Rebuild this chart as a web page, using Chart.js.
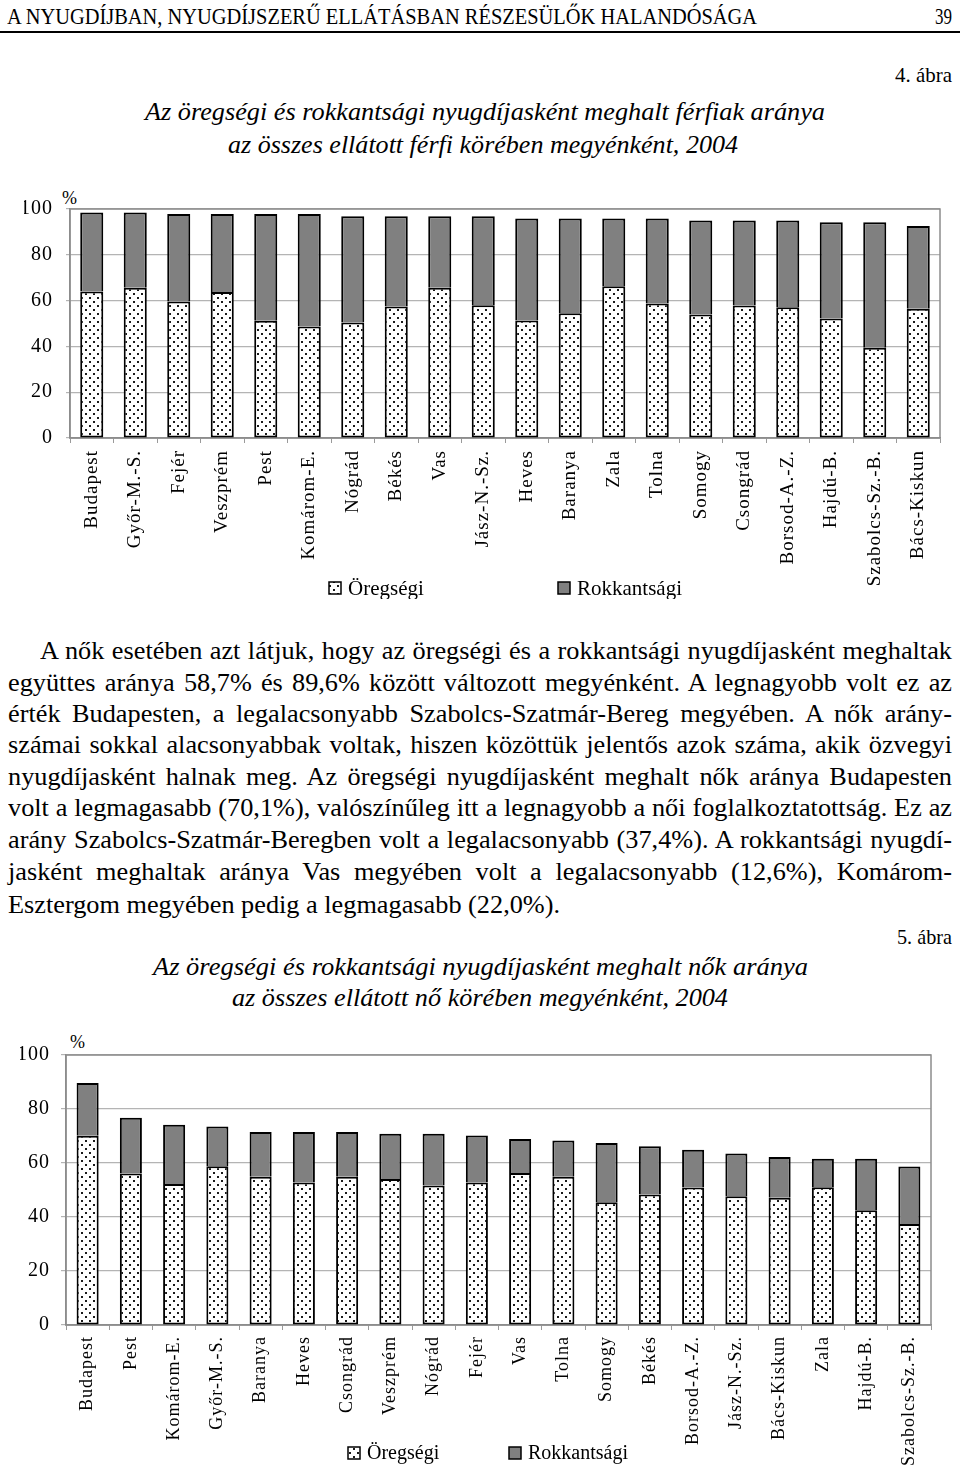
<!DOCTYPE html>
<html lang="hu">
<head>
<meta charset="utf-8">
<title>Öregségi és rokkantsági nyugdíjasként meghaltak aránya megyénként, 2004</title>
<script src="https://cdn.jsdelivr.net/npm/chart.js@4.4.1/dist/chart.umd.min.js"></script>
<style>
  html, body { margin: 0; padding: 0; background: #fff; }
  body {
    position: relative;
    width: 960px;
    height: 1465px;
    overflow: hidden;
    color: #000;
    font-family: "Liberation Serif", "DejaVu Serif", serif;
  }
  .t { position: absolute; white-space: nowrap; transform-origin: 0 50%; }
  .it { font-style: italic; }
  .pl { position: absolute; white-space: nowrap; font-size: 26px; line-height: 30px; transform-origin: 0 50%; }
  .pl.j { text-align: justify; text-align-last: justify; }
  .rule { position: absolute; left: 0; top: 31px; width: 960px; height: 2px; background: #000; }
  canvas { position: absolute; left: 0; }
</style>
</head>
<body>

<div class="t fit" data-w="750" style="left:7px; top:2px; font-size:24px; line-height:28px;">A NYUGDÍJBAN, NYUGDÍJSZERŰ ELLÁTÁSBAN RÉSZESÜLŐK HALANDÓSÁGA</div>
<div class="t fit" data-w="17" style="left:935px; top:2px; font-size:24px; line-height:28px;">39</div>
<div class="rule"></div>

<div class="t fit" data-w="57" style="left:895px; top:63px; font-size:21px; line-height:24px;">4. ábra</div>
<div class="t fit it" data-w="680" style="left:145px; top:98px; font-size:25px; line-height:28px;">Az öregségi és rokkantsági nyugdíjasként meghalt férfiak aránya</div>
<div class="t fit it" data-w="510" style="left:228px; top:131px; font-size:25px; line-height:28px;">az összes ellátott férfi körében megyénként, 2004</div>
<div class="t" style="left:62px; top:187px; font-size:18px; line-height:22px;">%</div>

<canvas id="menChart" width="960" height="415" style="top:184px"></canvas>

<div class="pl j" data-w="912" style="left:40px; top:636px;">A nők esetében azt látjuk, hogy az öregségi és a rokkantsági nyugdíjasként meghaltak</div>
<div class="pl j" data-w="944" style="left:8px; top:668px;">együttes aránya 58,7% és 89,6% között változott megyénként. A legnagyobb volt ez az</div>
<div class="pl j" data-w="944" style="left:8px; top:699px;">érték Budapesten, a legalacsonyabb Szabolcs-Szatmár-Bereg megyében. A nők arány-</div>
<div class="pl j" data-w="944" style="left:8px; top:730px;">számai sokkal alacsonyabbak voltak, hiszen közöttük jelentős azok száma, akik özvegyi</div>
<div class="pl j" data-w="944" style="left:8px; top:762px;">nyugdíjasként halnak meg. Az öregségi nyugdíjasként meghalt nők aránya Budapesten</div>
<div class="pl j" data-w="944" style="left:8px; top:793px;">volt a legmagasabb (70,1%), valószínűleg itt a legnagyobb a női foglalkoztatottság. Ez az</div>
<div class="pl j" data-w="944" style="left:8px; top:825px;">arány Szabolcs-Szatmár-Beregben volt a legalacsonyabb (37,4%). A rokkantsági nyugdí-</div>
<div class="pl j" data-w="944" style="left:8px; top:857px;">jasként meghaltak aránya Vas megyében volt a legalacsonyabb (12,6%), Komárom-</div>
<div class="pl" id="lastLine" data-w="552" style="left:8px; top:890px;">Esztergom megyében pedig a legmagasabb (22,0%).</div>

<div class="t fit" data-w="55" style="left:897px; top:925px; font-size:21px; line-height:24px;">5. ábra</div>
<div class="t fit it" data-w="655" style="left:153px; top:953px; font-size:25px; line-height:28px;">Az öregségi és rokkantsági nyugdíjasként meghalt nők aránya</div>
<div class="t fit it" data-w="496" style="left:232px; top:984px; font-size:25px; line-height:28px;">az összes ellátott nő körében megyénként, 2004</div>
<div class="t" style="left:70px; top:1031px; font-size:18px; line-height:22px;">%</div>

<canvas id="womenChart" width="960" height="434" style="top:1031px"></canvas>

<script>
// 4. ábra – férfiak (a megyék a grafikon sorrendjében)
const countiesMen = ['Budapest', 'Győr-M.-S.', 'Fejér', 'Veszprém', 'Pest', 'Komárom-E.', 'Nógrád', 'Békés', 'Vas', 'Jász-N.-Sz.',
  'Heves', 'Baranya', 'Zala', 'Tolna', 'Somogy', 'Csongrád', 'Borsod-A.-Z.', 'Hajdú-B.', 'Szabolcs-Sz.-B.', 'Bács-Kiskun'];
const oldAgeMen = [64.0, 65.6, 59.6, 63.8, 51.2, 48.7, 50.4, 57.4, 65.6, 58.0, 51.3, 54.5, 66.3, 58.7, 53.9, 57.9, 57.1, 52.2, 39.4, 56.4];
const disabilityMen = [34.5, 32.9, 38.2, 34.0, 46.6, 49.1, 46.4, 39.4, 31.2, 38.8, 44.6, 41.4, 29.6, 37.2, 41.1, 37.1, 37.9, 42.0, 54.8, 36.2];

// 5. ábra – nők
const countiesWomen = ['Budapest', 'Pest', 'Komárom-E.', 'Győr-M.-S.', 'Baranya', 'Heves', 'Csongrád', 'Veszprém', 'Nógrád', 'Fejér',
  'Vas', 'Tolna', 'Somogy', 'Békés', 'Borsod-A.-Z.', 'Jász-N.-Sz.', 'Bács-Kiskun', 'Zala', 'Hajdú-B.', 'Szabolcs-Sz.-B.'];
const oldAgeWomen = [70.1, 56.1, 52.2, 58.8, 54.9, 52.8, 54.9, 54.1, 51.7, 52.8, 56.3, 54.9, 45.5, 48.3, 50.9, 47.7, 47.1, 51.0, 42.5, 37.4];
const disabilityWomen = [19.5, 20.7, 22.0, 14.7, 16.6, 18.7, 16.6, 16.7, 19.1, 17.4, 12.6, 13.4, 21.9, 17.9, 14.0, 15.8, 15.1, 10.6, 19.1, 21.3];

const yTicks = [0, 20, 40, 60, 80, 100];
const seriesNames = ['Öregségi', 'Rokkantsági'];

const SERIF = 'Liberation Serif';

// squeeze headings to the width they take in the printed page
document.querySelectorAll('.fit').forEach(function (el) {
  const natural = el.getBoundingClientRect().width;
  el.style.transform = 'scaleX(' + (parseFloat(el.dataset.w) / natural) + ')';
});

// body text: one common horizontal squeeze (taken from the last, unjustified
// line), then justify every other line to the column width
(function () {
  const lines = document.querySelectorAll('.pl');
  const last = document.getElementById('lastLine');
  let squeeze = parseFloat(last.dataset.w) / last.offsetWidth;
  lines.forEach(function (el) {
    squeeze = Math.min(squeeze, parseFloat(el.dataset.w) / el.offsetWidth);
  });
  lines.forEach(function (el) {
    if (el.classList.contains('j')) {
      el.style.width = (parseFloat(el.dataset.w) / squeeze) + 'px';
      el.style.whiteSpace = 'normal';
    }
    el.style.transform = 'scaleX(' + squeeze + ')';
  });
})();

function dotPattern(ctx) {
  const tile = document.createElement('canvas');
  tile.width = 8;
  tile.height = 8;
  const g = tile.getContext('2d');
  g.fillStyle = '#fff';
  g.fillRect(0, 0, 8, 8);
  g.fillStyle = '#1a1a1a';
  g.fillRect(1, 1, 2, 2);
  g.fillRect(5, 5, 2, 2);
  return ctx.createPattern(tile, 'repeat');
}

// gray frame round the plot area, like the Excel original
const plotFrame = {
  id: 'plotFrame',
  beforeDatasetsDraw(chart) {
    const a = chart.chartArea;
    const c = chart.ctx;
    c.save();
    c.strokeStyle = '#8c8c8c';
    c.lineWidth = 1.5;
    c.strokeRect(a.left, a.top, a.right - a.left, a.bottom - a.top);
    c.restore();
  }
};

// the printed labels are slightly letter-spaced
const spacedText = {
  id: 'spacedText',
  beforeDraw(chart, args, opts) {
    chart.ctx.letterSpacing = opts.spacing;
  },
  afterDraw(chart) {
    chart.ctx.letterSpacing = '0px';
  }
};

// the legend sits among the long category labels, so it is drawn by hand
const looseLegend = {
  id: 'looseLegend',
  afterDraw(chart, args, opts) {
    const c = chart.ctx;
    c.save();
    c.letterSpacing = '0px';
    c.font = opts.fontSize + 'px "' + SERIF + '"';
    c.textBaseline = 'middle';
    chart.data.datasets.forEach(function (ds, i) {
      const x = opts.x[i];
      const y = opts.y;
      c.fillStyle = ds.backgroundColor;
      c.fillRect(x, y - 6, 12, 12);
      c.strokeStyle = '#000';
      c.lineWidth = 1.5;
      c.strokeRect(x, y - 6, 12, 12);
      c.fillStyle = '#000';
      c.fillText(ds.label, x + 19, y + 1);
    });
    c.restore();
  }
};

function drawCountyChart(canvasId, counties, oldAge, disability, look) {
  const ctx = document.getElementById(canvasId).getContext('2d');
  return new Chart(ctx, {
    type: 'bar',
    data: {
      labels: counties,
      datasets: [
        {
          label: seriesNames[0],
          data: oldAge,
          backgroundColor: dotPattern(ctx),
          borderColor: '#000',
          borderWidth: 2,
          borderSkipped: false,
          barPercentage: look.barPercentage,
          categoryPercentage: 1
        },
        {
          label: seriesNames[1],
          data: disability,
          backgroundColor: '#808080',
          borderColor: '#000',
          borderWidth: 2,
          borderSkipped: 'bottom',
          barPercentage: look.barPercentage,
          categoryPercentage: 1
        }
      ]
    },
    options: {
      responsive: false,
      animation: false,
      events: [],
      layout: {
        padding: look.padding
      },
      plugins: {
        legend: { display: false },
        tooltip: { enabled: false },
        looseLegend: look.legend,
        spacedText: { spacing: '1px' }
      },
      scales: {
        x: {
          stacked: true,
          grid: {
            drawOnChartArea: false,
            color: '#9a9a9a',
            tickLength: 5
          },
          border: { color: '#8c8c8c', width: 1.5 },
          ticks: {
            autoSkip: false,
            minRotation: 90,
            maxRotation: 90,
            padding: look.labelPadding,
            color: '#000',
            font: { family: SERIF, size: look.labelSize }
          },
          afterFit: function (scale) {
            scale.height = look.xHeight;
          }
        },
        y: {
          stacked: true,
          min: 0,
          max: 100,
          afterBuildTicks: function (scale) {
            scale.ticks = yTicks.map(function (v) { return { value: v }; });
          },
          grid: {
            color: '#b4b4b4',
            lineWidth: 1.2,
            tickLength: look.yTickLength
          },
          border: { color: '#8c8c8c', width: 1.5 },
          ticks: {
            padding: look.yPadding,
            color: '#000',
            font: { family: SERIF, size: 20 }
          },
          afterFit: function (scale) {
            scale.width = 46;
          }
        }
      }
    },
    plugins: [spacedText, plotFrame, looseLegend]
  });
}

drawCountyChart('menChart', countiesMen, oldAgeMen, disabilityMen, {
  barPercentage: 0.53,
  padding: { top: 24, left: 24, right: 20, bottom: 0 },
  xHeight: 161,
  labelPadding: 7,
  labelSize: 19,
  yTickLength: 4,
  yPadding: 13,
  legend: { y: 404, x: [329, 558], fontSize: 21 }
});

drawCountyChart('womenChart', countiesWomen, oldAgeWomen, disabilityWomen, {
  barPercentage: 0.51,
  padding: { top: 24, left: 20, right: 29, bottom: 0 },
  xHeight: 140,
  labelPadding: 6,
  labelSize: 18,
  yTickLength: 5,
  yPadding: 11,
  legend: { y: 422, x: [348, 509], fontSize: 20 }
});
</script>
</body>
</html>
